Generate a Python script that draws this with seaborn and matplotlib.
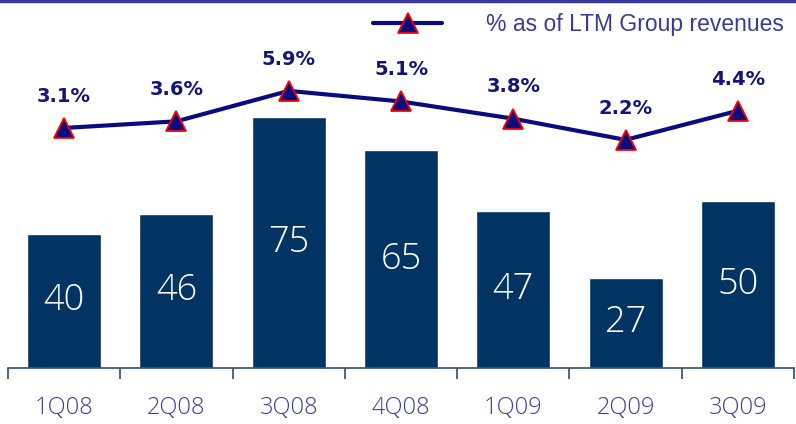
import matplotlib
matplotlib.use("Agg")
import matplotlib.pyplot as plt
import seaborn as sns
import pandas as pd
from matplotlib.lines import Line2D

quarters = ["1Q08", "2Q08", "3Q08", "4Q08", "1Q09", "2Q09", "3Q09"]
amounts = [40, 46, 75, 65, 47, 27, 50]
pct_of_revenues = [3.1, 3.6, 5.9, 5.1, 3.8, 2.2, 4.4]
pct_labels = ["3.1%", "3.6%", "5.9%", "5.1%", "3.8%", "2.2%", "4.4%"]
legend_label = "% as of LTM Group revenues"

df = pd.DataFrame({"quarter": quarters, "amount": amounts, "pct": pct_of_revenues})

sns.set_theme(style="white")
plt.rcParams["font.family"] = ["Open Sans", "DejaVu Sans"]

BAR = "#023463"
LINE = "#0b0b80"
TEXT = "#3d3d9e"

fig = plt.figure(figsize=(7.96, 4.24), dpi=100)
ax = fig.add_axes([8 / 796, 56 / 424, 786 / 796, 348 / 424])

sns.barplot(data=df, x="quarter", y="amount", color=BAR, width=0.66,
            saturation=1, ax=ax)
ax.set_xlim(-0.5, 6.5)
ax.set_ylim(0, 348 / 3.35)

for i, v in enumerate(amounts):
    ax.text(i, v / 2, str(v), ha="center", va="center", color="white",
            fontsize=26, fontweight="light")

for s in ["top", "right", "left"]:
    ax.spines[s].set_visible(False)
ax.spines["bottom"].set_color("#2a4f7a")
ax.spines["bottom"].set_linewidth(1.2)
ax.set_yticks([])
ax.set_xticks([i - 0.5 for i in range(8)], minor=False)
ax.set_xticklabels([])
ax.tick_params(axis="x", which="major", direction="out", length=8,
               width=1.2, color="#2a4f7a", bottom=True)
ax.set_xticks(range(7), minor=True)
ax.set_xticklabels(quarters, minor=True)
ax.tick_params(axis="x", which="minor", length=0, pad=20,
               labelsize=17, labelcolor=TEXT)
for t in ax.get_xticklabels(minor=True):
    t.set_fontweight("light")
ax.set_xlabel("")
ax.set_ylabel("")

ax2 = ax.twinx()
ax2.set_ylim((169 - 368) / 13.24, (169 - 20) / 13.24)
sns.lineplot(x=list(range(7)), y=pct_of_revenues, ax=ax2, color=LINE,
             linewidth=3, marker="^", markersize=15, markerfacecolor=LINE,
             markeredgecolor="red", markeredgewidth=1.3)
ax2.set_xlim(-0.5, 6.5)
ax2.axis("off")
for i, (v, lab) in enumerate(zip(pct_of_revenues, pct_labels)):
    ax2.annotate(lab, (i, v), xytext=(0, 16), textcoords="offset points",
                 ha="center", va="bottom", color="#14147a", fontsize=14,
                 fontweight="bold", family=["DejaVu Sans"])

handle = Line2D([], [], color=LINE, linewidth=3, marker="^", markersize=15,
                markerfacecolor=LINE, markeredgecolor="red",
                markeredgewidth=1.3)
fig.legend([handle], [legend_label], loc="upper right",
           bbox_to_anchor=(1.0, 1.0), frameon=False,
           prop={"family": "Liberation Sans", "size": 16.5},
           handlelength=3.0, handletextpad=1.9, labelcolor="#3a3a9a",
           borderaxespad=0.15)

fig.add_artist(Line2D([0, 1], [1 - 1 / 424, 1 - 1 / 424],
                      transform=fig.transFigure, color="#3a3a9a", linewidth=2.5))

fig.savefig("out.png", dpi=100)
